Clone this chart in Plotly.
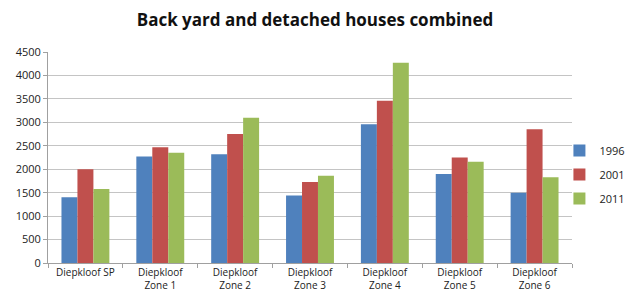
import plotly.graph_objects as go

categories = ["Diepkloof SP", "Diepkloof<br>Zone 1", "Diepkloof<br>Zone 2", "Diepkloof<br>Zone 3",
              "Diepkloof<br>Zone 4", "Diepkloof<br>Zone 5", "Diepkloof<br>Zone 6"]
v1996 = [1400, 2270, 2320, 1440, 2960, 1900, 1500]
v2001 = [2000, 2470, 2750, 1730, 3460, 2250, 2850]
v2011 = [1580, 2350, 3100, 1860, 4270, 2160, 1830]
series = [("1996", v1996, "#4F81BD"), ("2001", v2001, "#C0504D"), ("2011", v2011, "#9BBB59")]
yticks = [0, 500, 1000, 1500, 2000, 2500, 3000, 3500, 4000, 4500]

fig = go.Figure()
for name, vals, col in series:
    fig.add_trace(go.Bar(x=categories, y=vals, name=name, marker_color=col, marker_line_width=0,
                         legendgroup=name))

fig.update_layout(
    width=630, height=302,
    margin=dict(l=48, r=58, t=52, b=39, autoexpand=False),
    paper_bgcolor="white", plot_bgcolor="white",
    font=dict(family="Open Sans, Liberation Sans, sans-serif", size=10, color="#222"),
    title=dict(text="<b>Back yard and detached houses combined</b>", x=0.5, xanchor="center",
               y=0.935, yanchor="middle", font=dict(size=17, color="#111")),
    barmode="group", bargap=0.36, bargroupgap=0,
    legend=dict(x=0.976, xanchor="left", y=0.42, yanchor="middle", font=dict(size=11),
                itemwidth=30, tracegroupgap=5, bgcolor="rgba(0,0,0,0)"),
    showlegend=True,
)
fig.update_yaxes(range=[0, 4500], tickvals=yticks, showgrid=True, gridcolor="#c4c4c4",
                 showline=True, linecolor="#a0a0a0", ticks="outside", ticklen=4, tickcolor="#a0a0a0",
                 zeroline=False, tickfont=dict(size=11), automargin=False)
fig.update_xaxes(showline=True, linecolor="#a0a0a0", ticks="outside", tickson="boundaries",
                 ticklen=4, tickcolor="#a0a0a0", tickfont=dict(size=10), automargin=False)
fig.write_html("out.html", config={"displayModeBar": False},
               post_script="document.body.style.margin='0';document.body.style.overflow='hidden';")
